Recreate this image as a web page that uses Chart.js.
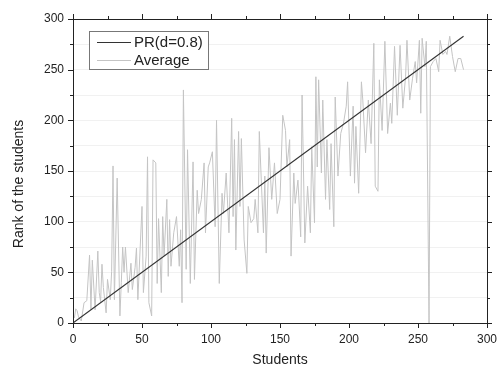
<!DOCTYPE html>
<html><head><meta charset="utf-8">
<script src="https://cdn.jsdelivr.net/npm/chart.js@4"></script>
<style>html,body{margin:0;padding:0;background:#fff;}#wrap{width:497px;height:369px;}</style>
</head><body><div id="wrap"><canvas id="c" width="497" height="369"></canvas></div>
<script>
// Series labels and axis titles
const seriesLabels = ['PR(d=0.8)', 'Average'];
const xTitle = 'Students';
const yTitle = 'Rank of the students';

// PR(d=0.8) line (student -> rank)
const prStudents = [0, 283];
const prRank = [0, 283];

// Average rank, read vertex by vertex from the picture
const students = [1,2,3,4,6,8,10,12,13,14,16,18,19,20,21,22,24,25,27,28,29,30,32,34,35,36,37,38,40,42,43,45,46,47,50,51,53,54,55,57,58,60,61,62,64,65,66,68,69,70,71,73,75,77,78,79,80,82,83,85,87,88,90,91,93,95,96,98,99,101,103,104,106,108,109,111,113,115,116,117,118,120,121,122,124,126,127,129,131,132,134,135,138,139,140,142,144,146,148,150,152,154,155,157,158,160,161,163,165,166,168,170,172,173,175,176,177,178,180,181,183,184,186,187,189,190,192,194,196,198,199,201,203,204,205,207,209,210,212,214,216,218,219,221,222,224,226,228,230,231,233,235,237,239,241,242,244,246,248,249,251,252,253,255,256,258,259,261,263,265,266,268,270,271,273,275,277,279,281,283];
const average = [5,14,12,6,2,20,22,67,13,62,13,71,30,21,58,35,10,43,23,51,155,23,143,7,40,75,50,75,30,59,33,55,74,23,115,30,66,164,20,7,161,158,39,103,30,105,66,122,46,102,56,89,105,56,92,20,230,53,171,39,159,43,131,108,122,158,89,154,158,169,95,200,39,128,108,148,89,202,105,181,72,189,115,182,82,49,115,99,103,122,89,189,89,145,69,173,122,158,108,122,205,190,154,181,66,148,118,141,85,225,79,135,89,174,99,243,154,240,148,220,122,181,112,177,95,223,145,187,197,214,238,145,214,138,194,128,238,220,168,220,177,276,135,130,240,190,278,187,217,197,273,205,274,212,243,279,220,241,258,237,279,207,281,253,278,0,253,258,261,248,279,265,268,265,283,263,248,261,261,250];

// Axis ranges and ticks
const xMin = 0, xMax = 300, yMin = 0, yMax = 300;
const tickStep = 25, labelStep = 50;

const toXY = (xs, ys) => xs.map((x, i) => ({x: x, y: ys[i]}));

const FONT = "'Liberation Sans', Arial, sans-serif";
const TXT = '#222';

const framePlugin = {
  id: 'frame',
  afterDraw(chart) {
    const ctx = chart.ctx, a = chart.chartArea;
    const xs = chart.scales.x, ys = chart.scales.y;
    ctx.save();
    ctx.strokeStyle = '#222';
    ctx.lineWidth = 1;
    ctx.strokeRect(Math.round(a.left) + 0.5, Math.round(a.top) + 0.5, Math.round(a.right - a.left), Math.round(a.bottom - a.top));
    ctx.beginPath();
    for (let v = xMin; v <= xMax; v += tickStep) {
      const p = Math.round(xs.getPixelForValue(v)) + 0.5;
      const L = v % labelStep === 0 ? 5 : 3;
      ctx.moveTo(p, a.bottom); ctx.lineTo(p, a.bottom + L);
      ctx.moveTo(p, a.top); ctx.lineTo(p, a.top - L);
    }
    for (let v = yMin; v <= yMax; v += tickStep) {
      const p = Math.round(ys.getPixelForValue(v)) + 0.5;
      const L = v % labelStep === 0 ? 5 : 3;
      ctx.moveTo(a.left, p); ctx.lineTo(a.left - L, p);
      ctx.moveTo(a.right, p); ctx.lineTo(a.right + L, p);
    }
    ctx.stroke();

    // axis titles
    ctx.fillStyle = TXT;
    ctx.font = '14px ' + FONT;
    ctx.textAlign = 'center';
    ctx.textBaseline = 'middle';
    ctx.fillText(xTitle, (a.left + a.right) / 2, 360);
    ctx.save();
    ctx.translate(19, 184);
    ctx.rotate(-Math.PI / 2);
    ctx.fillText(yTitle, 0, 0);
    ctx.restore();

    // legend
    const bx = 89.5, by = 31.5, bw = 119, bh = 38;
    ctx.fillStyle = '#fff';
    ctx.fillRect(bx, by, bw, bh);
    ctx.strokeStyle = '#777';
    ctx.strokeRect(bx, by, bw, bh);
    const ds = chart.data.datasets;
    const rows = [42, 60];
    ctx.font = '15px ' + FONT;
    ctx.textAlign = 'left';
    rows.forEach((yy, i) => {
      ctx.strokeStyle = ds[i].borderColor;
      ctx.lineWidth = 1.2;
      ctx.beginPath();
      ctx.moveTo(97, yy + 0.5); ctx.lineTo(131, yy + 0.5);
      ctx.stroke();
      ctx.fillStyle = TXT;
      ctx.fillText(ds[i].label, 134, yy + 1);
    });
    ctx.restore();
  }
};

new Chart(document.getElementById('c'), {
  type: 'line',
  data: {
    datasets: [
      {label: seriesLabels[0], data: toXY(prStudents, prRank), borderColor: '#333', borderWidth: 1.1, pointRadius: 0, tension: 0},
      {label: seriesLabels[1], data: toXY(students, average), borderColor: '#c4c4c4', borderWidth: 1, pointRadius: 0, tension: 0}
    ]
  },
  options: {
    responsive: false,
    animation: false,
    devicePixelRatio: 1,
    layout: {padding: {left: 0, right: 0, top: 19, bottom: 0}},
    plugins: {legend: {display: false}, tooltip: {enabled: false}},
    scales: {
      x: {
        type: 'linear', min: xMin, max: xMax,
        border: {display: false},
        grid: {display: false, drawTicks: false},
        ticks: {stepSize: tickStep, autoSkip: false, maxRotation: 0, padding: 9, color: TXT,
          font: {family: FONT, size: 12},
          callback: v => (v % labelStep === 0 ? String(v) : '')},
        afterFit: s => { s.height = 46; s.paddingRight = 10; }
      },
      y: {
        type: 'linear', min: yMin, max: yMax,
        border: {display: false},
        grid: {color: '#f1f1f1', drawTicks: false, lineWidth: 1},
        ticks: {stepSize: tickStep, autoSkip: false, padding: 9, color: TXT,
          font: {family: FONT, size: 12},
          callback: v => (v % labelStep === 0 ? String(v) : '')},
        afterFit: s => { s.width = 73; }
      }
    }
  },
  plugins: [framePlugin]
});
</script></body></html>
